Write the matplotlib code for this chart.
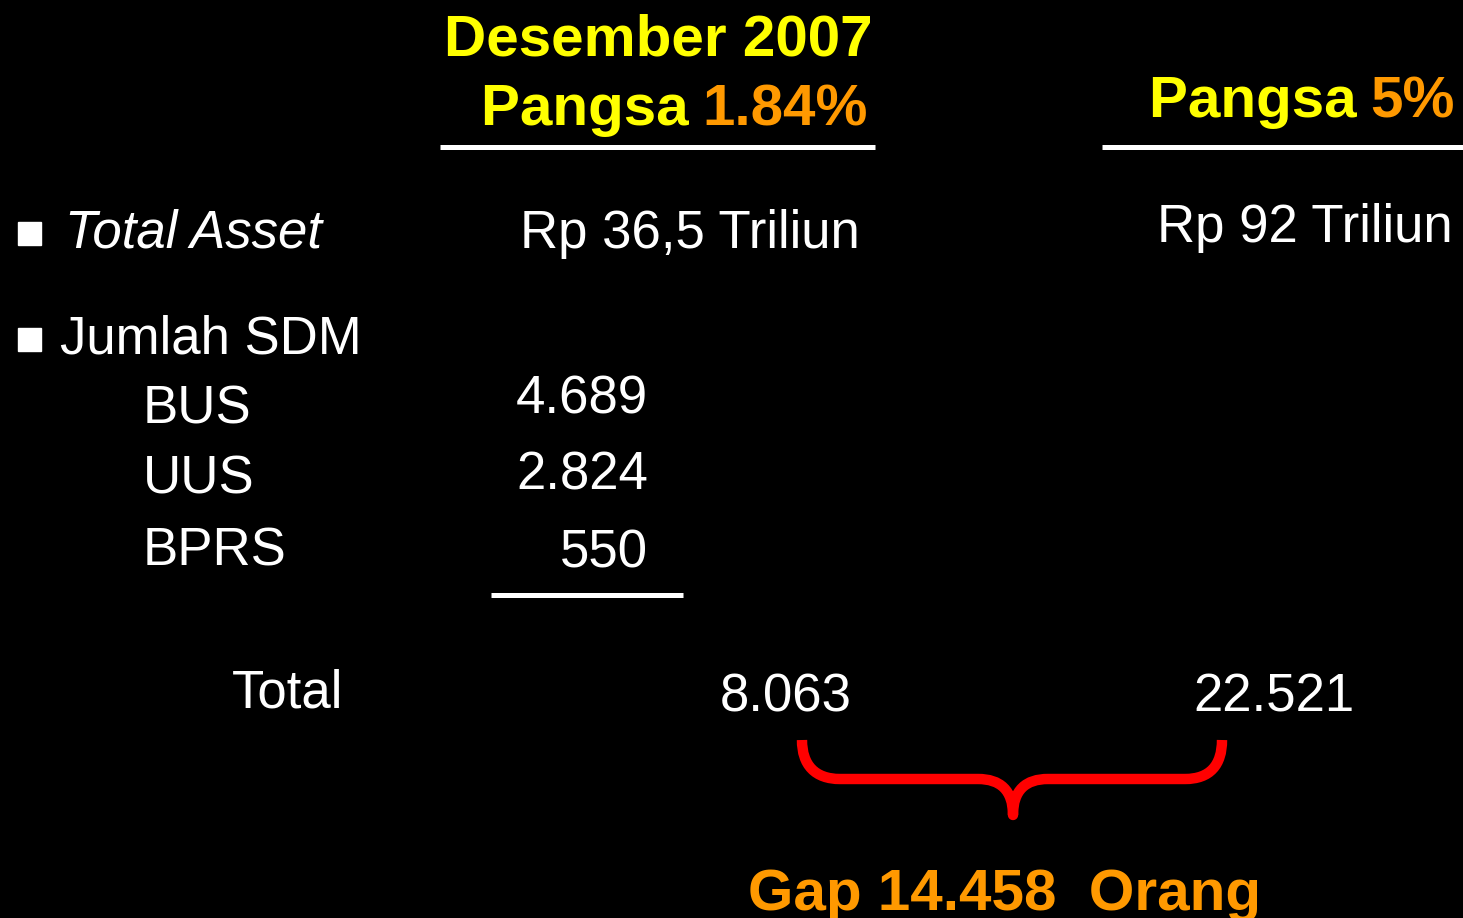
import matplotlib.pyplot as plt
from matplotlib.path import Path
from matplotlib.patches import PathPatch, Rectangle

# slide content
bullet_items = ["Total Asset", "Jumlah SDM"]
sdm_groups = ["BUS", "UUS", "BPRS"]
sdm_2007 = ["4.689", "2.824", "550"]
total_2007 = "8.063"
total_target = "22.521"
asset_2007 = "Rp 36,5 Triliun"
asset_target = "Rp 92 Triliun"
share_2007 = "1.84%"
share_target = "5%"
gap_text = "Gap 14.458  Orang"

YELLOW = "#FFFF00"
ORANGE = "#FF9900"
RED = "#FF0000"
WHITE = "white"

fig = plt.figure(figsize=(14.63, 9.18), dpi=100, facecolor="black")
ax = fig.add_axes([0, 0, 1, 1])
ax.set_xlim(0, 1463)
ax.set_ylim(918, 0)
ax.axis("off")
ax.set_facecolor("black")

reg = dict(family="Liberation Sans", fontsize=38, color=WHITE, va="baseline")
bold = dict(family="Liberation Sans", fontsize=42, fontweight="bold", va="baseline")

# headers
ax.text(873, 55, "Desember 2007", color=YELLOW, ha="right", **bold)
ax.text(481, 125, "Pangsa ", color=YELLOW, ha="left", **bold)
ax.text(868, 125, share_2007, color=ORANGE, ha="right", **bold)
ax.text(1149, 117, "Pangsa ", color=YELLOW, ha="left", **bold)
ax.text(1455, 117, share_target, color=ORANGE, ha="right", **bold)
ax.plot([440, 875], [147, 147], color=WHITE, lw=3.6, solid_capstyle="butt")
ax.plot([1102, 1463], [147, 147], color=WHITE, lw=3.6, solid_capstyle="butt")

# bullets
for yb in [222, 328]:
    ax.add_patch(Rectangle((18, yb), 23, 23, color=WHITE))
ax.text(65, 248, bullet_items[0], style="italic", ha="left", **reg)
ax.text(60, 353, bullet_items[1], ha="left", **reg)

ax.text(860, 248, asset_2007, ha="right", **reg)
ax.text(1453, 242, asset_target, ha="right", **reg)

# SDM breakdown
group_y = [424, 494, 565]
value_y = [414, 490, 567]
for name, val, yg, yv in zip(sdm_groups, sdm_2007, group_y, value_y):
    ax.text(143, yg, name, ha="left", **reg)
    ax.text(648, yv, val, ha="right", **reg)
ax.plot([491, 683], [595, 595], color=WHITE, lw=3.6, solid_capstyle="butt")

ax.text(343, 708, "Total", ha="right", **reg)
ax.text(852, 711, total_2007, ha="right", **reg)
ax.text(1355, 711, total_target, ha="right", **reg)

# brace
verts = [(802, 740), (802, 765), (815, 779), (840, 779),
         (978, 779),
         (1000, 779), (1013, 790), (1013, 815),
         (1013, 790), (1026, 779), (1048, 779),
         (1185, 779),
         (1210, 779), (1222, 765), (1222, 740)]
codes = [Path.MOVETO, Path.CURVE4, Path.CURVE4, Path.CURVE4,
         Path.LINETO,
         Path.CURVE4, Path.CURVE4, Path.CURVE4,
         Path.CURVE4, Path.CURVE4, Path.CURVE4,
         Path.LINETO,
         Path.CURVE4, Path.CURVE4, Path.CURVE4]
ax.add_patch(PathPatch(Path(verts, codes), facecolor="none", edgecolor=RED,
                       lw=7.5, joinstyle="round", capstyle="butt"))

ax.text(1005, 910, gap_text, color=ORANGE, ha="center", **bold)

fig.savefig("out.png", dpi=100, facecolor="black")
